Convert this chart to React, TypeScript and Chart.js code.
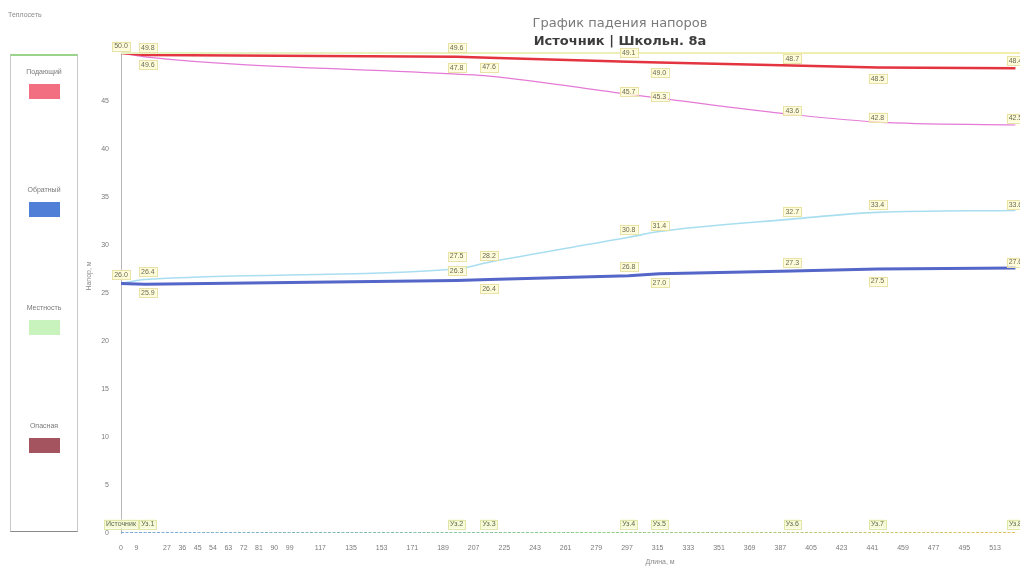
import React, { useEffect, useRef } from 'react';
import { Chart, registerables } from 'chart.js';

Chart.register(...registerables);

// ---------- data ----------
const nodeNames = ['Источник', 'Уз.1', 'Уз.2', 'Уз.3', 'Уз.4', 'Уз.5', 'Уз.6', 'Уз.7', 'Уз.8'];
const distances = [0, 14, 197, 216, 298, 316, 394, 444, 525];
const supplyHead = [50.0, 49.8, 49.6, 49.5, 49.1, 49.0, 48.7, 48.5, 48.4];
const supplyPressure = [50.0, 49.6, 47.8, 47.6, 45.7, 45.3, 43.6, 42.8, 42.5];
const returnHead = [26.0, 25.9, 26.3, 26.4, 26.8, 27.0, 27.3, 27.5, 27.6];
const returnPressure = [26.0, 26.4, 27.5, 28.2, 30.8, 31.4, 32.7, 33.4, 33.6];
const terrain = [0, 0, 0, 0, 0, 0, 0, 0, 0];
const xTickValues = [0, 9, 27, 36, 45, 54, 63, 72, 81, 90, 99, 117, 135, 153, 171, 189, 207, 225, 243, 261, 279, 297, 315, 333, 351, 369, 387, 405, 423, 441, 459, 477, 495, 513, 531];
const yTickValues = [0, 5, 10, 15, 20, 25, 30, 35, 40, 45];
const legendItems = ['Подающий', 'Обратный', 'Местность', 'Опасная'];
const legendColors = ['#f26f82', '#4f7fd6', '#c9f3bd', '#a4545f'];
const titleLine1 = 'График падения напоров';
const titleLine2 = 'Источник | Школьн. 8а';

// ---------- label placement (style: vertical offsets of value boxes, null = hidden) ----------
const supplyHeadDy = [-7, -7, -9, null, -9, 10, -7, 11, -8];
const supplyPressureDy = [null, 8, -7, -9, -3, -2, -4, -5, -7];
const returnHeadDy = [-9, 8, -10, 9, -9, 9, -8, 12, -6];
const returnPressureDy = [null, -8, -13, -7, -8, -6, -8, -8, -6];

const FONT = '"Liberation Sans", Arial, sans-serif';
const TITLE_FONT = '"DejaVu Sans", Verdana, sans-serif';
const CANVAS_W = 1080;
const CANVAS_H = 572;
const X_MAX = 540;
const PX_PER_M = 1.704;

const pts = (ys: number[]) => distances.map((x, i) => ({ x, y: ys[i] }));

const labelsPlugin = {
  id: 'valueLabels',
  afterDatasetsDraw(chart: any) {
    const { ctx, chartArea, scales } = chart;
    const xs = scales.x;
    const ys = scales.y;
    ctx.save();
    // pale top frame line
    const tg = ctx.createLinearGradient(chartArea.left, 0, chartArea.right, 0);
    tg.addColorStop(0, '#e6f2c4');
    tg.addColorStop(1, '#f3eeaa');
    ctx.strokeStyle = tg;
    ctx.lineWidth = 2;
    ctx.beginPath();
    ctx.moveTo(chartArea.left, chartArea.top);
    ctx.lineTo(chartArea.right, chartArea.top);
    ctx.stroke();

    const box = (text: string, cx: number, cy: number, bg: string, border: string, color: string) => {
      ctx.font = `7px ${FONT}`;
      const w = ctx.measureText(text).width + 4;
      const h = 9;
      ctx.fillStyle = bg;
      ctx.fillRect(cx - w / 2, cy - h / 2, w, h);
      ctx.strokeStyle = border;
      ctx.lineWidth = 1;
      ctx.strokeRect(Math.round(cx - w / 2) + 0.5, Math.round(cy - h / 2) + 0.5, Math.round(w), h);
      ctx.fillStyle = color;
      ctx.textAlign = 'center';
      ctx.textBaseline = 'middle';
      ctx.fillText(text, cx, cy + 0.5);
    };

    const series: [number[], (number | null)[]][] = [
      [supplyHead, supplyHeadDy],
      [supplyPressure, supplyPressureDy],
      [returnHead, returnHeadDy],
      [returnPressure, returnPressureDy],
    ];
    series.forEach(([vals, dys]) => {
      vals.forEach((v, i) => {
        const dy = dys[i];
        if (dy === null) return;
        const px = xs.getPixelForValue(distances[i]) + (i === 1 ? 3 : 0);
        const py = ys.getPixelForValue(v) + dy;
        box(v.toFixed(1), px, py, 'rgba(255,252,214,0.9)', '#e9e2a6', '#6b6b55');
      });
    });

    nodeNames.forEach((n, i) => {
      const px = xs.getPixelForValue(distances[i]) + (i === 1 ? 3 : 0);
      const py = ys.getPixelForValue(terrain[i]) - 9;
      box(n, px, py, 'rgba(246,250,214,0.95)', '#dfe6a6', '#5f6a4a');
    });

    // axis titles
    ctx.fillStyle = '#8a8a8a';
    ctx.font = `7px ${FONT}`;
    ctx.textAlign = 'center';
    ctx.textBaseline = 'middle';
    ctx.fillText('Длина, м', 660, 562);
    ctx.translate(89, 276);
    ctx.rotate(-Math.PI / 2);
    ctx.fillText('Напор, м', 0, 0);
    ctx.restore();
  },
};

export default function App() {
  const canvasRef = useRef<HTMLCanvasElement | null>(null);

  useEffect(() => {
    const canvas = canvasRef.current;
    if (!canvas) return;
    const chart = new Chart(canvas, {
      type: 'line',
      data: {
        datasets: [
          {
            label: 'Подающий',
            data: pts(supplyHead),
            borderColor: '#e3343f',
            borderWidth: 2.5,
            pointRadius: 0,
            tension: 0,
            order: 1,
          },
          {
            label: 'Пьезометр подающего',
            data: pts(supplyPressure),
            borderColor: '#e47ad6',
            borderWidth: 1.2,
            pointRadius: 0,
            cubicInterpolationMode: 'monotone',
            order: 2,
          },
          {
            label: 'Обратный',
            data: pts(returnHead),
            borderColor: '#5466c8',
            borderWidth: 3,
            pointRadius: 0,
            tension: 0,
            order: 3,
          },
          {
            label: 'Пьезометр обратного',
            data: pts(returnPressure),
            borderColor: '#a9def0',
            borderWidth: 1.6,
            pointRadius: 0,
            cubicInterpolationMode: 'monotone',
            order: 4,
          },
          {
            label: 'Местность',
            data: pts(terrain),
            borderColor: (c: any) => {
              const a = c.chart.chartArea;
              if (!a) return '#8fc0d8';
              const g = c.chart.ctx.createLinearGradient(a.left, 0, a.right, 0);
              g.addColorStop(0, '#7ea7df');
              g.addColorStop(0.5, '#8ccf8a');
              g.addColorStop(1, '#e6c35c');
              return g;
            },
            borderWidth: 2,
            borderDash: [3, 1.5],
            pointRadius: 0,
            order: 5,
          },
        ],
      },
      options: {
        responsive: false,
        animation: false,
        layout: { padding: { left: 81, right: CANVAS_W - 121 - Math.round(X_MAX * PX_PER_M), top: 53, bottom: 0 } },
        plugins: {
          legend: { display: false },
          tooltip: { enabled: false },
          title: { display: false },
        },
        scales: {
          x: {
            type: 'linear',
            min: 0,
            max: X_MAX,
            afterBuildTicks: (s: any) => {
              s.ticks = xTickValues.map((v) => ({ value: v }));
            },
            afterFit: (s: any) => {
              s.height = 39;
            },
            ticks: {
              font: { size: 7, family: FONT },
              color: '#7a7a7a',
              padding: 11,
              maxRotation: 0,
              autoSkip: false,
              callback: (v: any) => String(v),
            },
            grid: { display: false, drawTicks: false },
            border: { display: false },
          },
          y: {
            min: 0,
            max: 50,
            afterBuildTicks: (s: any) => {
              s.ticks = yTickValues.map((v) => ({ value: v }));
            },
            afterFit: (s: any) => {
              s.width = 40;
            },
            ticks: {
              font: { size: 7, family: FONT },
              color: '#7a7a7a',
              padding: 12,
              callback: (v: any) => String(v),
            },
            grid: { color: 'transparent', drawTicks: false },
            border: { display: true, color: '#b8b8b8', width: 1 },
          },
        },
      },
      plugins: [labelsPlugin],
    } as any);
    return () => chart.destroy();
  }, []);

  return (
    <div
      style={{
        position: 'fixed',
        left: 0,
        top: 0,
        width: 1020,
        height: 572,
        overflow: 'hidden',
        background: '#ffffff',
        fontFamily: FONT,
      }}
    >
      <canvas
        ref={canvasRef}
        width={CANVAS_W}
        height={CANVAS_H}
        style={{ position: 'absolute', left: 0, top: 0, width: CANVAS_W, height: CANVAS_H }}
      />
      <div style={{ position: 'absolute', left: 8, top: 11, fontSize: 7, color: '#8a8a8a' }}>Теплосеть</div>
      <div
        style={{
          position: 'absolute',
          left: 420,
          top: 14,
          width: 400,
          textAlign: 'center',
          fontSize: 13,
          fontFamily: TITLE_FONT,
          color: '#7a7a7a',
          lineHeight: '18px',
        }}
      >
        {titleLine1}
      </div>
      <div
        style={{
          position: 'absolute',
          left: 420,
          top: 32,
          width: 400,
          textAlign: 'center',
          fontSize: 13,
          fontFamily: TITLE_FONT,
          fontWeight: 'bold',
          color: '#3c3c3c',
          lineHeight: '18px',
        }}
      >
        {titleLine2}
      </div>
      <div
        style={{
          position: 'absolute',
          left: 10,
          top: 54,
          width: 66,
          height: 475,
          borderLeft: '1px solid #c8c8c8',
          borderRight: '1px solid #c8c8c8',
          borderBottom: '1px solid #8a8a8a',
          borderTop: '2px solid #9ad48a',
        }}
      >
        {legendItems.map((name, i) => (
          <div
            key={name}
            style={{ position: 'absolute', left: 0, top: 11 + i * 118, width: 66, textAlign: 'center' }}
          >
            <div style={{ fontSize: 7, color: '#7a7a7a', lineHeight: '9px' }}>{name}</div>
            <div
              style={{
                margin: '8px auto 0 auto',
                width: 31,
                height: 15,
                background: legendColors[i],
              }}
            />
          </div>
        ))}
      </div>
    </div>
  );
}
